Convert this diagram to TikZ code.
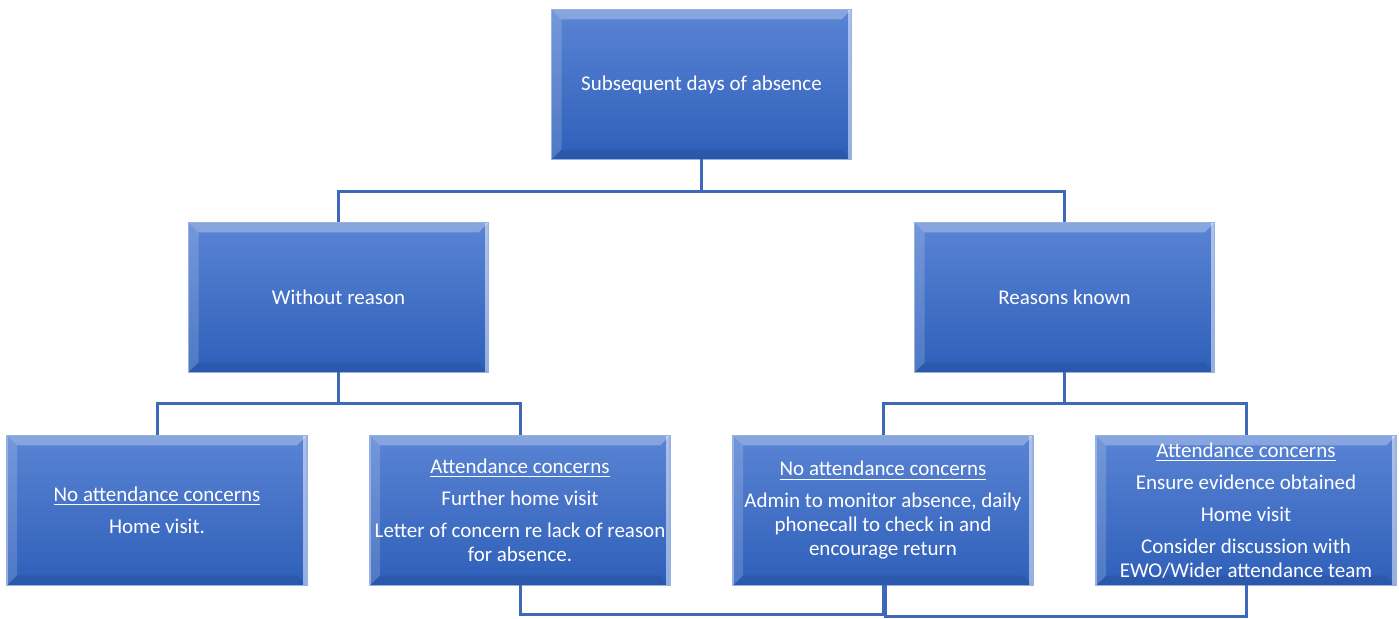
\documentclass[tikz,border=0pt]{standalone}
\usepackage{fontspec}
\setmainfont{Carlito}
\usetikzlibrary{positioning,calc}

\definecolor{boxtop}{RGB}{90,132,212}
\definecolor{boxbottom}{RGB}{46,95,185}
\definecolor{boxedge}{RGB}{150,178,228}
\definecolor{linkblue}{RGB}{62,104,184}

\tikzset{
  bevelbox/.style={rectangle, minimum width=150pt, minimum height=75pt,
    inner sep=2pt, outer sep=0pt, top color=boxtop, bottom color=boxbottom,
    draw=boxedge, line width=0.6pt, text=white, align=center,
    font=\fontsize{10.5}{12}\selectfont,
    path picture={
      \coordinate (bvnw) at (path picture bounding box.north west);
      \coordinate (bvne) at (path picture bounding box.north east);
      \coordinate (bvsw) at (path picture bounding box.south west);
      \coordinate (bvse) at (path picture bounding box.south east);
      % bevel faces
      \fill[white,opacity=.28] (bvnw) -- (bvne) -- ([shift={(-5pt,-5pt)}]bvne)
        -- ([shift={(5pt,-5pt)}]bvnw) -- cycle;
      \fill[white,opacity=.16] (bvnw) -- ([shift={(5pt,-5pt)}]bvnw)
        -- ([shift={(5pt,5pt)}]bvsw) -- (bvsw) -- cycle;
      \fill[black,opacity=.08] (bvsw) -- ([shift={(5pt,5pt)}]bvsw)
        -- ([shift={(-5pt,5pt)}]bvse) -- (bvse) -- cycle;
      \fill[white,opacity=.5] (bvne) -- (bvse) -- ([xshift=-2pt]bvse)
        -- ([xshift=-2pt]bvne) -- cycle;
    }},
  link/.style={draw=linkblue, line width=1.5pt}
}

\begin{document}
\begin{tikzpicture}[x=0.5pt, y=-0.5pt, node distance=31.5pt]
  \useasboundingbox (0,0) rectangle (1399,619);

  % bottom row
  \node (noconcA) [bevelbox] at (157,510.5)
    {\underline{No attendance concerns}\\[4pt]Home visit.};
  \node (concA) [bevelbox, right=of noconcA]
    {\underline{Attendance concerns}\\[4pt]Further home visit\\[4pt]Letter of concern re lack of reason\\for absence.};
  \node (noconcB) [bevelbox, right=of concA]
    {\underline{No attendance concerns}\\[4pt]Admin to monitor absence, daily\\phonecall to check in and\\encourage return};
  \node (concB) [bevelbox, right=of noconcB]
    {\underline{Attendance concerns}\\[4pt]Ensure evidence obtained\\[4pt]Home visit\\[4pt]Consider discussion with\\EWO/Wider attendance team};

  % middle row
  \coordinate (midA) at ($(noconcA.north)!0.5!(concA.north)$);
  \coordinate (midB) at ($(noconcB.north)!0.5!(concB.north)$);
  \node (noreason) [bevelbox, above=of midA] {Without reason};
  \node (known) [bevelbox, above=of midB] {Reasons known};

  % top
  \coordinate (midT) at ($(noreason.north)!0.5!(known.north)$);
  \node (absence) [bevelbox, above=of midT] {Subsequent days of absence};

  \draw[link] (absence.south) -- ++(0,32) -| (noreason.north);
  \draw[link] (absence.south) -- ++(0,32) -| (known.north);
  \draw[link] (noreason.south) -- ++(0,31) -| (noconcA.north);
  \draw[link] (noreason.south) -- ++(0,31) -| (concA.north);
  \draw[link] (known.south) -- ++(0,31) -| (noconcB.north);
  \draw[link] (known.south) -- ++(0,31) -| (concB.north);
  \draw[link] (concA.south) -- ++(0,29) -| (noconcB.south);
  \draw[link] ([xshift=1pt]noconcB.south) -- ++(0,31) -| (concB.south);
\end{tikzpicture}
\end{document}
